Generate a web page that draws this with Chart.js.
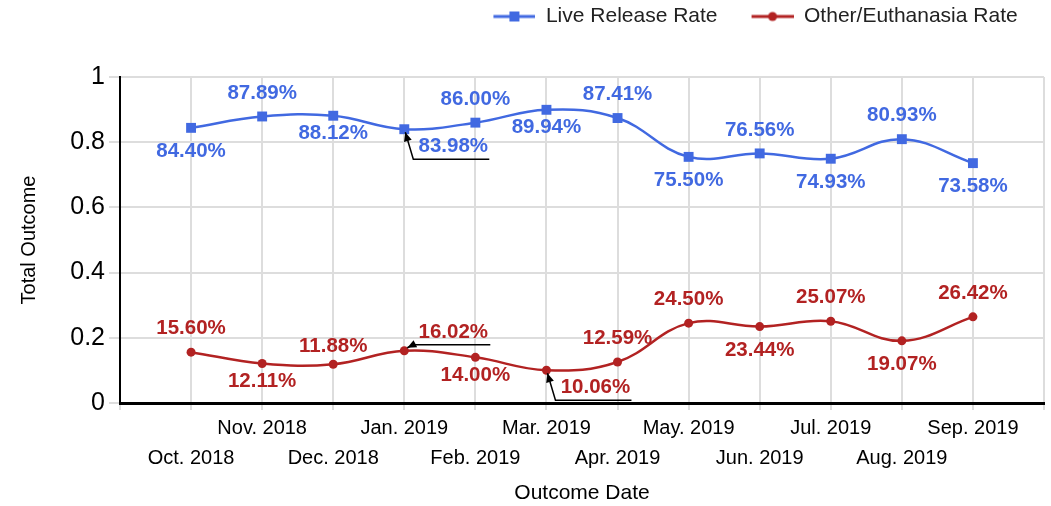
<!DOCTYPE html>
<html>
<head>
<meta charset="utf-8">
<script src="https://cdn.jsdelivr.net/npm/chart.js@4.4.1/dist/chart.umd.min.js"></script>
<style>
  html, body { margin: 0; padding: 0; background: #fff; }
  #wrap { width: 1051px; height: 506px; }
</style>
</head>
<body>
<div id="wrap"><canvas id="outcomeChart"></canvas></div>
<script>
const months = ['Oct. 2018', 'Nov. 2018', 'Dec. 2018', 'Jan. 2019', 'Feb. 2019', 'Mar. 2019',
                'Apr. 2019', 'May. 2019', 'Jun. 2019', 'Jul. 2019', 'Aug. 2019', 'Sep. 2019'];
const liveReleaseRate = [0.8440, 0.8789, 0.8812, 0.8398, 0.8600, 0.8994, 0.8741, 0.7550, 0.7656, 0.7493, 0.8093, 0.7358];
const otherEuthanasiaRate = [0.1560, 0.1211, 0.1188, 0.1602, 0.1400, 0.1006, 0.1259, 0.2450, 0.2344, 0.2507, 0.1907, 0.2642];
const yTickValues = [0, 0.2, 0.4, 0.6, 0.8, 1];

// where each % label sits relative to its point
const liveLabelPos = ['below', 'above', 'belowNear', 'leaderDown', 'above', 'belowNear', 'above', 'below', 'above', 'below', 'above', 'below'];
const otherLabelPos = ['above', 'belowNear', 'aboveNear', 'leaderUp', 'belowNear', 'leaderDown', 'above', 'above', 'below', 'above', 'below', 'above'];

const BLUE = '#4169e1';
const RED = '#b22222';
const GRID = '#dddddd';

Chart.defaults.font.family = "'Liberation Sans', Arial, sans-serif";
Chart.defaults.color = '#000';

const labelShapes = {
    above: { dx: 0, dy: -23.5 },
    below: { dx: 0, dy: 23.5 },
    aboveNear: { dx: 0, dy: -18 },
    belowNear: { dx: 0, dy: 18 },
    leaderDown: { dx: 49, dy: 17, path: [[1, 3], [9, 30], [85, 30]] },
    leaderUp: { dx: 49, dy: -18, path: [[3, -3], [9, -6], [86, -6]] }
};

function legendSample(color, style) {
    const c = document.createElement('canvas');
    c.width = 70; c.height = 14;
    const g = c.getContext('2d');
    g.strokeStyle = color; g.lineWidth = 3;
    g.beginPath(); g.moveTo(28, 7); g.lineTo(70, 7); g.stroke();
    g.fillStyle = color;
    if (style === 'rect') g.fillRect(44, 2, 10, 10);
    else { g.beginPath(); g.arc(49, 7, 4.5, 0, Math.PI * 2); g.fill(); }
    return c;
}

const valueLabels = {
    id: 'valueLabels',
    afterDatasetsDraw(chart) {
        const ctx = chart.ctx;
        ctx.save();
        ctx.font = "bold 20.5px 'Liberation Sans', Arial, sans-serif";
        ctx.textAlign = 'center';
        ctx.textBaseline = 'middle';
        chart.data.datasets.forEach((ds, di) => {
            chart.getDatasetMeta(di).data.forEach((pt, i) => {
                const shape = labelShapes[ds.labelPos[i]];
                const text = (ds.data[i].y * 100).toFixed(2) + '%';
                if (shape.path) {
                    const p = shape.path.map(([dx, dy]) => [pt.x + dx, pt.y + dy]);
                    ctx.strokeStyle = '#000'; ctx.fillStyle = '#000'; ctx.lineWidth = 1.5;
                    ctx.beginPath(); ctx.moveTo(p[0][0], p[0][1]);
                    p.slice(1).forEach(q => ctx.lineTo(q[0], q[1]));
                    ctx.stroke();
                    // arrow head at the point end
                    const ang = Math.atan2(p[0][1] - p[1][1], p[0][0] - p[1][0]);
                    ctx.beginPath();
                    ctx.moveTo(p[0][0], p[0][1]);
                    ctx.lineTo(p[0][0] - 9 * Math.cos(ang) + 4 * Math.sin(ang), p[0][1] - 9 * Math.sin(ang) - 4 * Math.cos(ang));
                    ctx.lineTo(p[0][0] - 9 * Math.cos(ang) - 4 * Math.sin(ang), p[0][1] - 9 * Math.sin(ang) + 4 * Math.cos(ang));
                    ctx.closePath(); ctx.fill();
                }
                ctx.fillStyle = ds.borderColor;
                ctx.fillText(text, pt.x + shape.dx, pt.y + shape.dy);
            });
        });
        ctx.restore();
    }
};

const toPoints = arr => arr.map((v, i) => ({ x: i, y: v }));

new Chart(document.getElementById('outcomeChart'), {
    type: 'line',
    data: {
        datasets: [
            {
                label: 'Live Release Rate', data: toPoints(liveReleaseRate), labelPos: liveLabelPos,
                borderColor: BLUE, backgroundColor: BLUE, borderWidth: 2.5, tension: 0.4,
                pointStyle: 'rect', pointRadius: 7, pointBorderWidth: 0,
                legendSample: legendSample(BLUE, 'rect')
            },
            {
                label: 'Other/Euthanasia Rate', data: toPoints(otherEuthanasiaRate), labelPos: otherLabelPos,
                borderColor: RED, backgroundColor: RED, borderWidth: 2.5, tension: 0.4,
                pointStyle: 'circle', pointRadius: 4.5, pointBorderWidth: 0,
                legendSample: legendSample(RED, 'circle')
            }
        ]
    },
    options: {
        responsive: true,
        maintainAspectRatio: false,
        animation: false,
        layout: { padding: { left: 0, right: 4, top: 0, bottom: 0 } },
        plugins: {
            legend: {
                position: 'top', align: 'end',
                labels: {
                    usePointStyle: true, pointStyleWidth: 70, padding: 6,
                    color: '#222', font: { size: 21 },
                    // trailing gap after the last entry keeps the legend off the right edge
                    generateLabels: chart => chart.data.datasets.map((ds, i, all) => ({
                        text: ds.label + (i === all.length - 1 ? '\u00a0\u00a0\u00a0\u00a0' : ''),
                        pointStyle: ds.legendSample, datasetIndex: i, hidden: false,
                        fillStyle: ds.borderColor, strokeStyle: ds.borderColor, lineWidth: 0, fontColor: '#222'
                    }))
                }
            },
            // empty title used as a spacer between the legend and the plot
            title: { display: true, text: '', position: 'top', weight: 500, font: { size: 10 }, padding: { top: 0, bottom: 28 } },
            tooltip: { enabled: false }
        },
        scales: {
            x: {
                type: 'linear', min: -1, max: months.length,
                afterBuildTicks: s => { s.ticks = []; for (let i = -1; i <= months.length; i++) s.ticks.push({ value: i }); },
                afterFit: s => { s.height = 103; },
                ticks: {
                    autoSkip: false, maxRotation: 0, minRotation: 0, padding: 3,
                    font: { size: 20, lineHeight: 1.5 },
                    callback: v => {
                        const m = months[v];
                        if (!m) return '';
                        return v % 2 ? [m, ''] : ['', m];
                    }
                },
                grid: { color: GRID, lineWidth: 2, tickLength: 7 },
                border: { color: '#000', width: 3 },
                title: { display: true, text: 'Outcome Date', font: { size: 21 }, padding: { top: 0, bottom: 0 } }
            },
            y: {
                min: 0, max: 1,
                afterBuildTicks: s => { s.ticks = yTickValues.map(v => ({ value: v })); },
                afterFit: s => { s.width = 120; },
                ticks: { padding: 4, font: { size: 25 }, callback: v => String(v) },
                grid: { color: GRID, lineWidth: 2, tickLength: 11 },
                border: { color: '#000', width: 2 },
                title: { display: true, text: 'Total Outcome', font: { size: 20 }, padding: { top: 17, bottom: 0 } }
            }
        }
    },
    plugins: [valueLabels]
});
</script>
</body>
</html>
